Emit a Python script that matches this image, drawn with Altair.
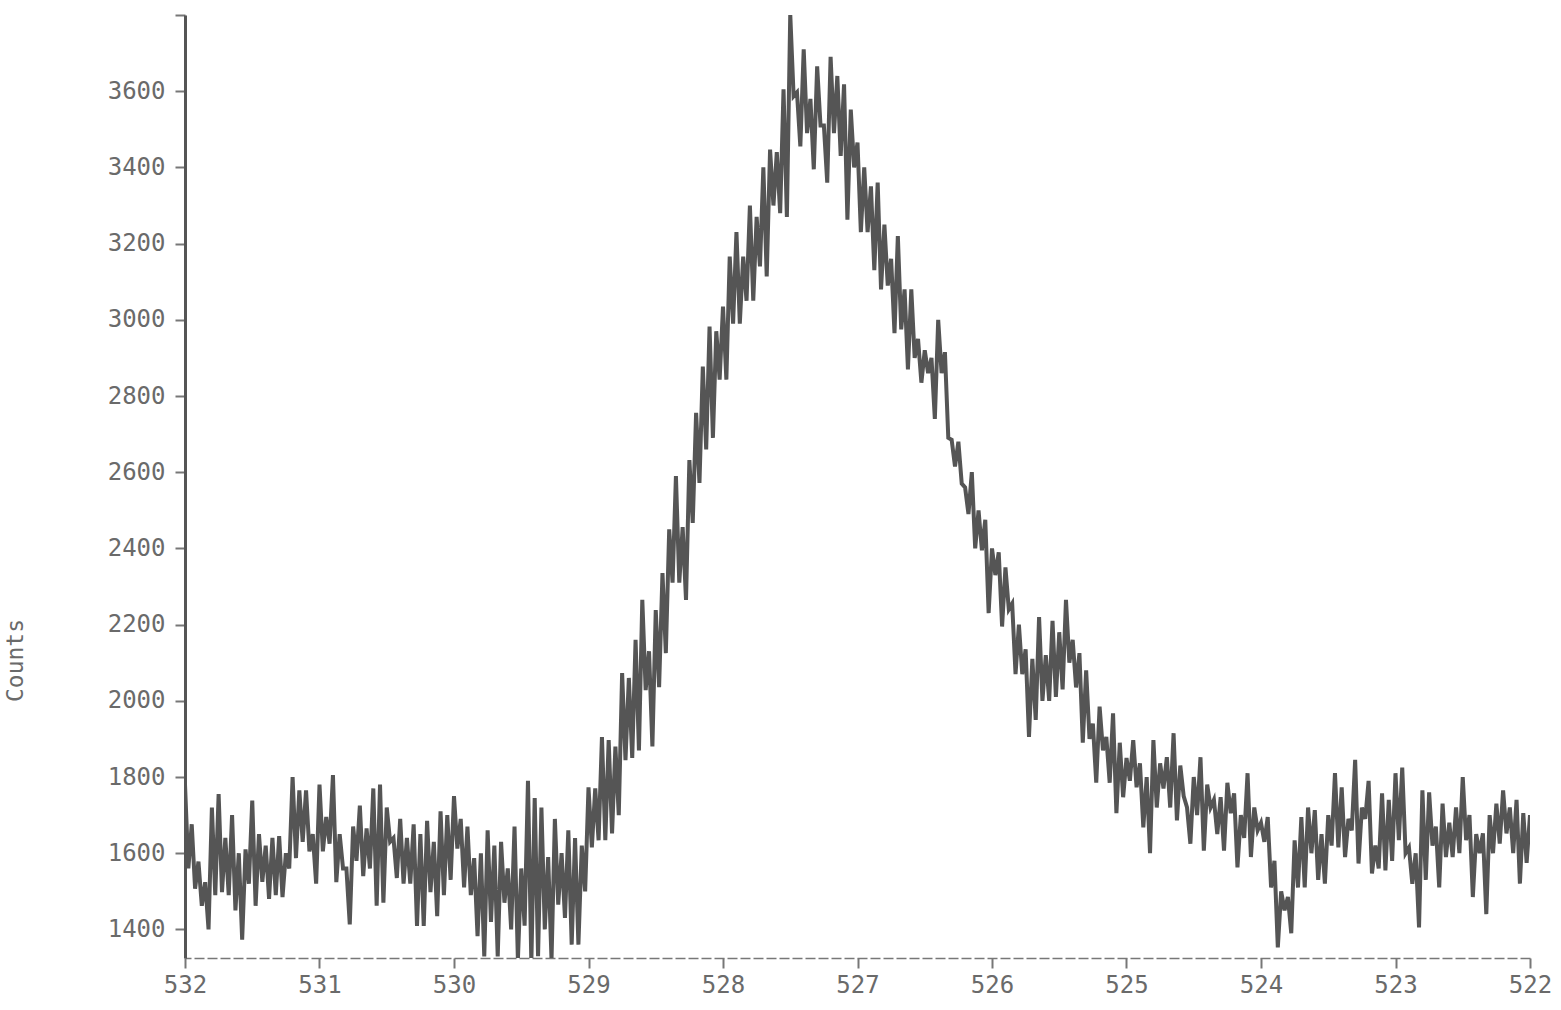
import altair as alt
import pandas as pd

# O 1s region, binding energy scanned from 532 eV down to 522 eV in 0.025 eV steps
E_START = 532.0
E_STEP = 0.025

# Counts, listed in scan order, 0.5 eV per row
counts_532_530 = [
    1780, 1560, 1676, 1507, 1578, 1462, 1524, 1400, 1720, 1490, 1755, 1498, 1640, 1490, 1700, 1450, 1600, 1373, 1610, 1520,
    1738, 1462, 1650, 1525, 1620, 1480, 1640, 1490, 1645, 1485, 1600, 1560, 1800, 1587, 1765, 1630, 1765, 1605, 1650, 1520,
    1780, 1605, 1695, 1625, 1805, 1524, 1650, 1560, 1560, 1413, 1670, 1580, 1725, 1540, 1665, 1560, 1770, 1462, 1780, 1470,
    1720, 1630, 1640, 1535, 1690, 1520, 1640, 1520, 1676, 1409, 1650, 1409, 1685, 1498, 1630, 1435, 1710, 1490, 1700, 1530,
]
counts_530_528 = [
    1750, 1612, 1690, 1510, 1670, 1490, 1587, 1382, 1600, 1329, 1660, 1420, 1620, 1329, 1630, 1470, 1560, 1400, 1670, 1320,
    1560, 1410, 1790, 1311, 1745, 1330, 1720, 1400, 1590, 1320, 1690, 1465, 1600, 1430, 1660, 1360, 1640, 1360, 1620, 1500,
    1773, 1615, 1770, 1634, 1905, 1634, 1897, 1652, 1880, 1700, 2073, 1844, 2060, 1850, 2160, 1870, 2265, 2028, 2130, 1880,
    2238, 2036, 2335, 2125, 2450, 2310, 2590, 2310, 2456, 2265, 2632, 2467, 2756, 2572, 2877, 2660, 2982, 2690, 2970, 2843,
]
counts_528_526 = [
    3035, 2843, 3166, 2990, 3230, 2990, 3166, 3050, 3300, 3050, 3270, 3140, 3400, 3114, 3447, 3300, 3440, 3280, 3605, 3270,
    3802, 3587, 3597, 3455, 3710, 3490, 3580, 3395, 3665, 3510, 3510, 3360, 3690, 3490, 3640, 3430, 3618, 3263, 3552, 3400,
    3465, 3230, 3400, 3230, 3350, 3130, 3360, 3080, 3250, 3090, 3160, 2965, 3220, 2975, 3080, 2870, 3080, 2900, 2950, 2835,
    2920, 2860, 2900, 2740, 3000, 2860, 2915, 2690, 2685, 2615, 2680, 2570, 2560, 2490, 2600, 2400, 2500, 2395, 2475, 2230,
]
counts_526_524 = [
    2400, 2330, 2390, 2195, 2350, 2240, 2255, 2070, 2200, 2070, 2135, 1905, 2110, 1950, 2220, 2000, 2120, 2000, 2210, 2010,
    2180, 2030, 2265, 2100, 2160, 2035, 2125, 1890, 2080, 1900, 1940, 1785, 1985, 1870, 1905, 1785, 1967, 1705, 1890, 1747,
    1850, 1790, 1897, 1773, 1836, 1668, 1800, 1600, 1897, 1720, 1836, 1770, 1852, 1720, 1915, 1686, 1830, 1750, 1720, 1625,
    1800, 1700, 1852, 1607, 1780, 1720, 1740, 1650, 1747, 1607, 1785, 1705, 1757, 1563, 1700, 1640, 1810, 1590, 1720, 1660,
]
counts_524_522 = [
    1680, 1630, 1695, 1510, 1580, 1353, 1500, 1450, 1485, 1390, 1634, 1510, 1695, 1510, 1720, 1600, 1713, 1530, 1650, 1520,
    1700, 1620, 1810, 1615, 1773, 1590, 1690, 1660, 1845, 1573, 1720, 1690, 1790, 1547, 1620, 1560, 1757, 1555, 1740, 1580,
    1810, 1634, 1825, 1600, 1615, 1520, 1600, 1405, 1765, 1530, 1760, 1620, 1670, 1510, 1730, 1590, 1680, 1590, 1720, 1600,
    1800, 1634, 1700, 1485, 1650, 1600, 1652, 1440, 1700, 1600, 1730, 1625, 1765, 1652, 1720, 1600, 1740, 1520, 1705, 1575,
    1700,
]

counts = counts_532_530 + counts_530_528 + counts_528_526 + counts_526_524 + counts_524_522
energy = [round(E_START - E_STEP * i, 3) for i in range(len(counts))]

x_ticks = [532, 531, 530, 529, 528, 527, 526, 525, 524, 523, 522]
y_ticks = [1400, 1600, 1800, 2000, 2200, 2400, 2600, 2800, 3000, 3200, 3400, 3600, 3800]

df = pd.DataFrame({"idx": list(range(len(counts))), "energy": energy, "counts": counts})

INK = "#555555"
LABEL = "#6a6a6a"
FONT = "DejaVu Sans Mono"

chart = (
    alt.Chart(df)
    .mark_line(color=INK, strokeWidth=4, strokeJoin="miter", clip=True)
    .encode(
        x=alt.X(
            "energy:Q",
            scale=alt.Scale(domain=[522, 532], reverse=True, nice=False, zero=False),
            axis=alt.Axis(
                values=x_ticks,
                format="d",
                title=None,
                grid=False,
                domainColor="#777777",
                domainWidth=1.5,
                domainDash=[10, 3],
                tickColor="#777777",
                tickWidth=2,
                tickSize=10,
                labelFont=FONT,
                labelFontSize=24,
                labelColor=LABEL,
                labelPadding=5,
                labelFlush=False,
            ),
        ),
        y=alt.Y(
            "counts:Q",
            scale=alt.Scale(domain=[1325, 3800], nice=False, zero=False),
            axis=alt.Axis(
                values=y_ticks,
                format="d",
                labelExpr="datum.value >= 3800 ? '' : datum.label",
                title="Counts",
                titleFont=FONT,
                titleFontSize=23,
                titleFontWeight="normal",
                titleColor=LABEL,
                titleX=-158,
                titleY=645,
                titleAngle=270,
                titleAlign="center",
                titleBaseline="bottom",
                grid=False,
                domainColor=INK,
                domainWidth=3,
                tickColor="#777777",
                tickWidth=2,
                tickSize=10,
                labelFont=FONT,
                labelFontSize=24,
                labelColor=LABEL,
                labelPadding=10,
            ),
        ),
        order="idx:Q",
    )
    .properties(
        width=1345,
        height=943,
        padding={"left": 185, "top": 15, "right": 31, "bottom": 52},
        autosize=alt.AutoSizeParams(type="none"),
        background="white",
    )
    .configure_view(stroke=None)
)

chart.save("out.html", embed_options={"renderer": "svg", "actions": False})
